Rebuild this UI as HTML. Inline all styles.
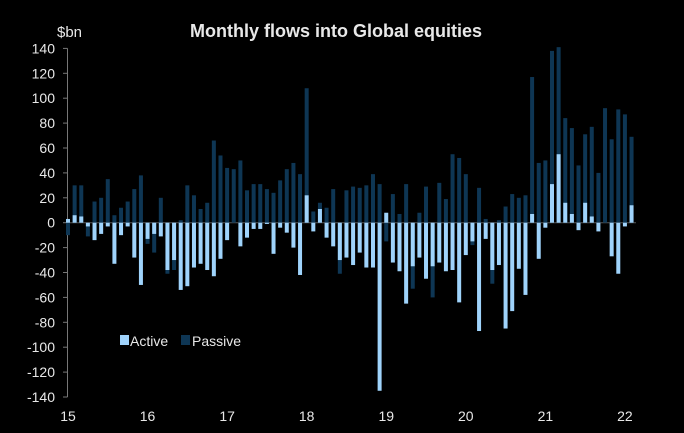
<!DOCTYPE html>
<html><head><meta charset="utf-8"><style>
body{margin:0;background:#000;width:684px;height:433px;overflow:hidden}
svg{display:block}
text{font-family:"Liberation Sans",sans-serif;fill:#e8e8e8}
</style></head><body>
<svg id="chart" width="684" height="433">
<text x="336" y="37" text-anchor="middle" font-size="18" font-weight="bold" fill="#fff">Monthly flows into Global equities</text>
<text x="57" y="37" font-size="15">$bn</text>
<g id="yaxis"></g>
<g id="xaxis"></g>
<g id="bars"></g>
<g>
<rect x="120" y="335" width="9" height="10" fill="#9fd3fb"/>
<text x="130" y="346" font-size="14">Active</text>
<rect x="181" y="335" width="9" height="10" fill="#0e3654"/>
<text x="192" y="346" font-size="14">Passive</text>
</g>
</svg>
<script>
const yTicks=[140,120,100,80,60,40,20,0,-20,-40,-60,-80,-100,-120,-140];
const yearLabels=["15","16","17","18","19","20","21","22"];
const passive=[-10,30,30,-11,17,20,35,6,12,17,27,38,-17,-24,20,-41,-38,2,30,22,11,16,66,54,44,43,50,26,31,31,27,24,34,43,48,39,108,9,16,12,27,-41,26,29,28,30,39,31,-15,23,7,31,-53,8,29,-60,32,19,55,52,39,-18,28,3,-49,2,13,23,20,22,117,48,50,138,141,84,76,46,71,77,40,92,67,91,87,69];
const active=[3,6,5,-3,-14,-9,-3,-33,-10,-3,-28,-50,-13,-9,-11,-38,-30,-54,-51,-36,-33,-38,-43,-29,-14,0,-19,-12,-5,-5,-1,-25,-4,-8,-20,-42,22,-7,11,-12,-19,-30,-28,-34,-24,-36,-36,-135,8,-32,-39,-65,-35,-28,-45,-35,-32,-39,-38,-64,-26,-15,-87,-13,-38,-34,-85,-71,-37,-58,7,-29,-4,31,55,16,7,-6,16,5,-7,0,-27,-41,-3,14];
const NS="http://www.w3.org/2000/svg";
const y0=222.7, k=1.245;
function y(v){return y0-v*k;}
function x(i){return 68+i*6.63;}
const ya=document.getElementById('yaxis');
function mk(tag,attrs,parent){const e=document.createElementNS(NS,tag);for(const a in attrs)e.setAttribute(a,attrs[a]);parent.appendChild(e);return e;}
mk('line',{x1:67.5,x2:67.5,y1:y(140),y2:y(-140),stroke:'#777','stroke-width':1},ya);
yTicks.forEach(t=>{
  mk('line',{x1:63,x2:67.5,y1:y(t),y2:y(t),stroke:'#777'},ya);
  const tx=mk('text',{x:55,y:y(t)+5,'text-anchor':'end','font-size':14},ya);
  tx.textContent=t;
  
  
});
const xa=document.getElementById('xaxis');
yearLabels.forEach((l,j)=>{
  const tx=mk('text',{x:x(j*12),y:421,'text-anchor':'middle','font-size':14},xa);
  tx.textContent=l;
  
  
});
const bars=document.getElementById('bars');
mk('line',{x1:67.5,x2:636,y1:y0,y2:y0,stroke:'#555'},bars);
const w=4;
passive.forEach((v,i)=>{
  const r=mk('rect',{x:x(i)-w/2,y:Math.min(y(v),y0),width:w,height:Math.abs(v)*k,fill:'#0e3654'},bars);
  
  
});
active.forEach((v,i)=>{
  const r=mk('rect',{x:x(i)-w/2,y:Math.min(y(v),y0),width:w,height:Math.abs(v)*k,fill:'#9fd3fb'},bars);
  
  
});
</script>
</body></html>
